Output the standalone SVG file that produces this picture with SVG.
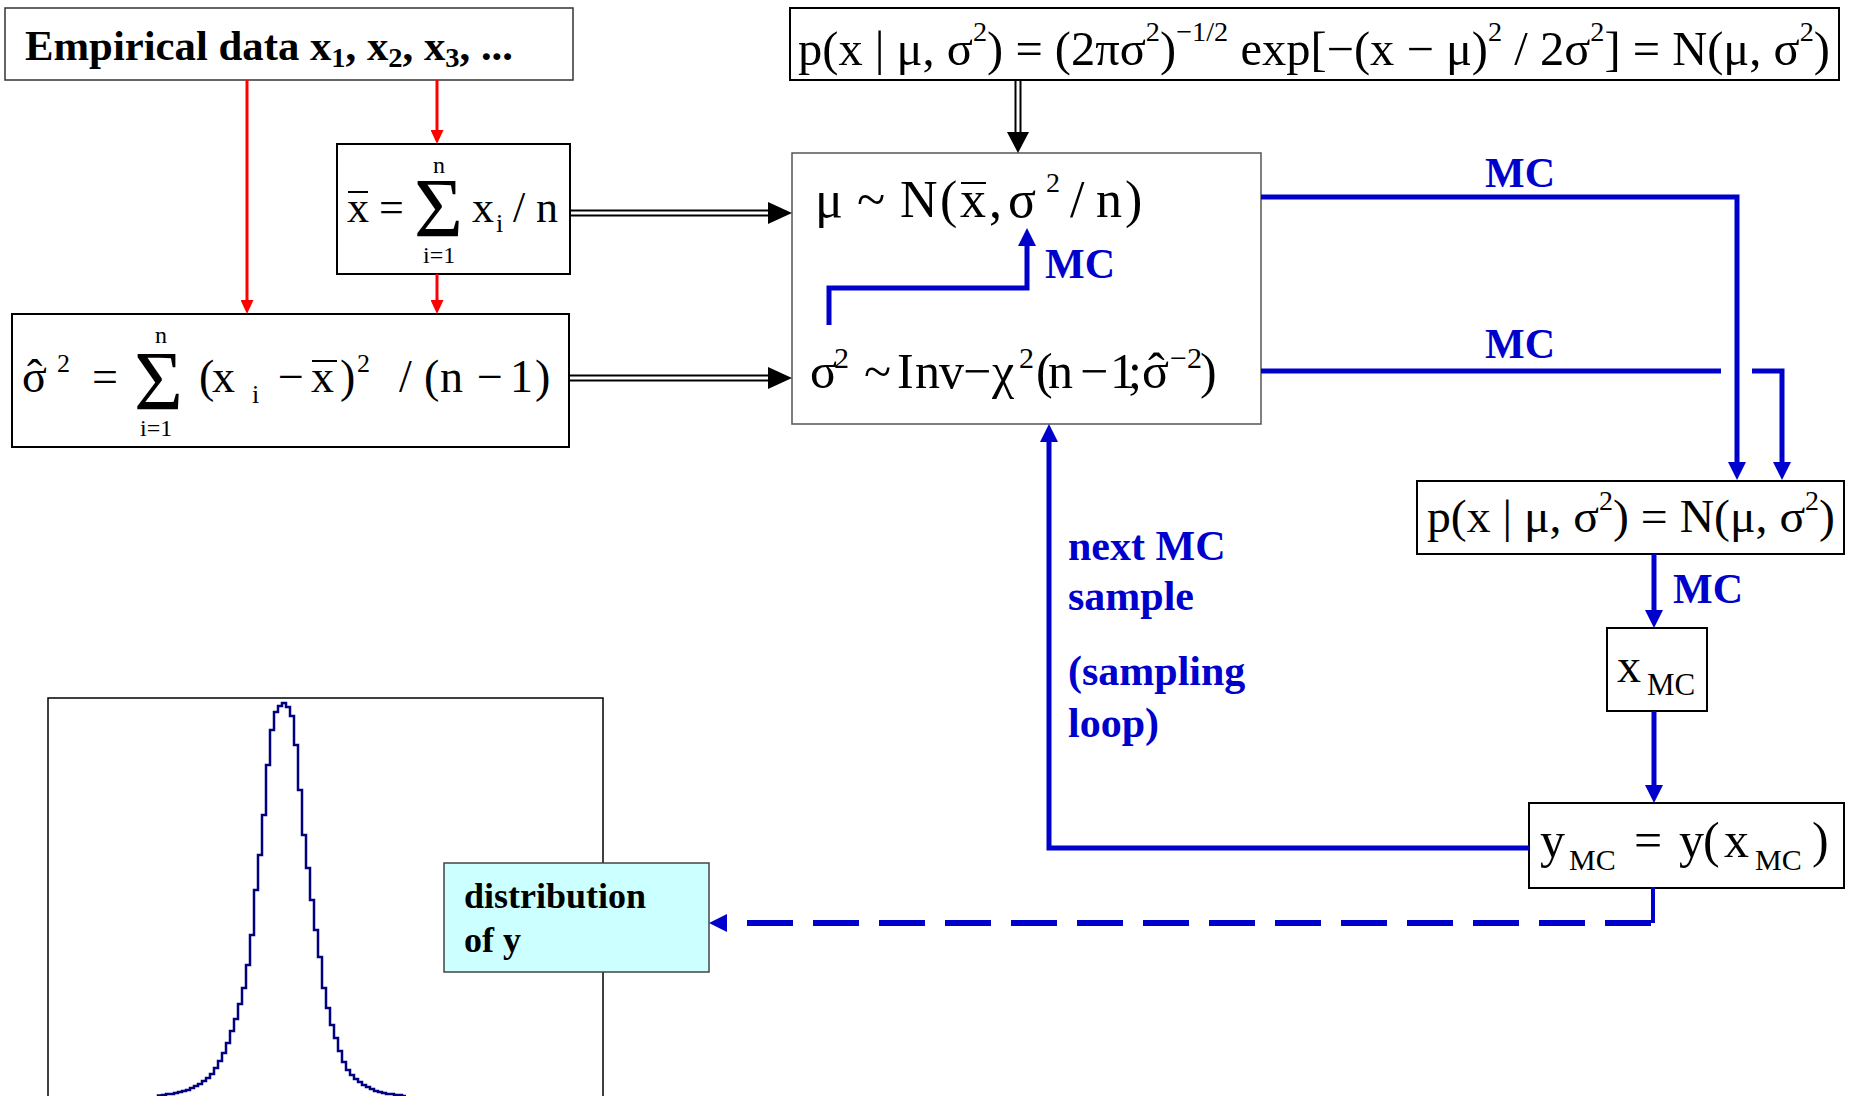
<svg xmlns="http://www.w3.org/2000/svg" width="1851" height="1096" viewBox="0 0 1851 1096">
<defs>
<style>
.f{font-family:"Liberation Serif","Times New Roman",serif;fill:#000}
.bd{font-family:"Liberation Serif","Times New Roman",serif;font-weight:bold;fill:#000}
.mc{font-family:"Liberation Serif","Times New Roman",serif;font-weight:bold;font-size:42px;fill:#0000cc}
.b2{fill:#fff;stroke:#000;stroke-width:2}
.blue{fill:none;stroke:#0000cc;stroke-width:5;stroke-linejoin:miter}
.red{fill:none;stroke:#ff0000;stroke-width:3}
.blk{fill:none;stroke:#000;stroke-width:2}
.bar{stroke:#000;stroke-width:2}
</style>
<marker id="ab" markerUnits="userSpaceOnUse" markerWidth="18" markerHeight="18" refX="1" refY="9" orient="auto"><path d="M0,0 L18,9 L0,18 z" fill="#0000cc"/></marker>
<marker id="ar" markerUnits="userSpaceOnUse" markerWidth="14" markerHeight="13" refX="1" refY="6.5" orient="auto"><path d="M0,0 L14,6.5 L0,13 z" fill="#ff0000"/></marker>
</defs>
<rect width="1851" height="1096" fill="#fff"/>

<g id="histogram">
<rect x="48" y="698" width="555" height="410" fill="none" stroke="#000" stroke-width="1.5"/>
<path d="M158,1096 V1095.5 H162 V1095 H166 V1094 H170 V1094 H174 V1093 H178 V1092 H182 V1091 H186 V1090 H190 V1088 H194 V1086 H198 V1084 H202 V1081 H206 V1078 H210 V1074 H214 V1068 H218 V1061 H222 V1053 H226 V1043 H230 V1031 H234 V1019 H238 V1004 H242 V988 H246 V965 H250 V935 H254 V890 H258 V855 H262 V815 H266 V765 H270 V730 H274 V712 H278 V706 H282 V703 H286 V707 H290 V716 H294 V745 H298 V790 H302 V835 H306 V868 H310 V900 H314 V930 H318 V957 H322 V988 H326 V1008 H330 V1025 H334 V1038 H338 V1051 H342 V1062 H346 V1070 H350 V1075 H354 V1079 H358 V1082 H362 V1085 H366 V1087 H370 V1089 H374 V1091 H378 V1092 H382 V1093 H386 V1094 H390 V1094 H394 V1095 H398 V1095 H402 V1096 H406" fill="none" stroke="#000080" stroke-width="2.5"/>
</g>

<g id="empirical">
<rect x="5" y="8" width="568" height="72" fill="#fff" stroke="#333" stroke-width="1.5"/>
<text class="bd" x="25" y="60" font-size="42" textLength="488" lengthAdjust="spacingAndGlyphs">Empirical data x<tspan dy="7" font-size="28">1</tspan><tspan dy="-7">, x</tspan><tspan dy="7" font-size="28">2</tspan><tspan dy="-7">, x</tspan><tspan dy="7" font-size="28">3</tspan><tspan dy="-7">, ...</tspan></text>
</g>

<g id="likelihood">
<rect class="b2" x="790" y="8" width="1049" height="72"/>
<text class="f" x="798" y="65" font-size="48" textLength="1032" lengthAdjust="spacingAndGlyphs">p(x | μ, σ<tspan dy="-24" font-size="28">2</tspan><tspan dy="24">) = (2πσ</tspan><tspan dy="-24" font-size="28">2</tspan><tspan dy="24">)</tspan><tspan dy="-24" font-size="28">−1/2</tspan><tspan dy="24"> exp[−(x − μ)</tspan><tspan dy="-24" font-size="28">2</tspan><tspan dy="24"> / 2σ</tspan><tspan dy="-24" font-size="28">2</tspan><tspan dy="24">] = N(μ, σ</tspan><tspan dy="-24" font-size="28">2</tspan><tspan dy="24">)</tspan></text>
</g>

<g id="mean">
<rect class="b2" x="337" y="144" width="233" height="130"/>
<text class="f" font-size="44"><tspan x="347" y="222">x</tspan><tspan x="379" y="222">=</tspan><tspan x="472" y="222">x</tspan><tspan x="513" y="222">/</tspan><tspan x="536" y="222">n</tspan></text>
<line class="bar" x1="348" y1="192" x2="368" y2="192"/>
<text class="f" x="414" y="237" font-size="84">Σ</text>
<text class="f" font-size="24"><tspan x="433" y="173">n</tspan><tspan x="423" y="263">i=1</tspan></text>
<text class="f" x="496" y="232" font-size="26">i</text>
</g>

<g id="variance">
<rect class="b2" x="12" y="314" width="557" height="133"/>
<text class="f" font-size="46"><tspan x="22" y="392">σ</tspan><tspan x="92" y="392">=</tspan><tspan x="199" y="392">(</tspan><tspan x="212" y="392">x</tspan><tspan x="278" y="392">−</tspan><tspan x="311" y="392">x</tspan><tspan x="340" y="392">)</tspan><tspan x="399" y="392">/</tspan><tspan x="424" y="392">(</tspan><tspan x="440" y="392">n</tspan><tspan x="477" y="392">−</tspan><tspan x="510" y="392">1</tspan><tspan x="535" y="392">)</tspan></text>
<text class="f" x="27" y="392" font-size="46">ˆ</text>
<line class="bar" x1="312" y1="361" x2="337" y2="361"/>
<text class="f" font-size="26"><tspan x="57" y="372">2</tspan><tspan x="357" y="372">2</tspan><tspan x="252" y="403">i</tspan></text>
<text class="f" x="134" y="410" font-size="84">Σ</text>
<text class="f" font-size="24"><tspan x="155" y="343">n</tspan><tspan x="140" y="436">i=1</tspan></text>
</g>

<g id="posterior">
<rect x="792" y="153" width="469" height="271" fill="#fff" stroke="#555" stroke-width="1.5"/>
<text class="f" font-size="52"><tspan x="815" y="217">μ</tspan><tspan x="857" y="217">~</tspan><tspan x="900" y="217">N</tspan><tspan x="940" y="217">(</tspan><tspan x="960" y="217">x</tspan><tspan x="989" y="217">,</tspan><tspan x="1008" y="217">σ</tspan><tspan x="1070" y="217">/</tspan><tspan x="1096" y="217">n</tspan><tspan x="1125" y="217">)</tspan></text>
<line class="bar" x1="961" y1="183" x2="986" y2="183"/>
<text class="f" x="1046" y="192" font-size="28">2</text>
<text class="f" font-size="50"><tspan x="810" y="388">σ</tspan><tspan x="864" y="388">~</tspan><tspan x="897" y="388">I</tspan><tspan x="915" y="388">n</tspan><tspan x="939" y="388">v</tspan><tspan x="963" y="388">−</tspan><tspan x="992" y="388">χ</tspan><tspan x="1036" y="388">(</tspan><tspan x="1048" y="388">n</tspan><tspan x="1080" y="388">−</tspan><tspan x="1110" y="388">1</tspan><tspan x="1128" y="388">;</tspan><tspan x="1142" y="388">σ</tspan><tspan x="1200" y="388">)</tspan></text>
<text class="f" x="1148" y="388" font-size="50">ˆ</text>
<text class="f" font-size="30"><tspan x="834" y="368">2</tspan><tspan x="1019" y="368">2</tspan><tspan x="1170" y="368">−2</tspan></text>
</g>

<g id="normal">
<rect class="b2" x="1417" y="481" width="427" height="73"/>
<text class="f" x="1427" y="532" font-size="46" textLength="408" lengthAdjust="spacingAndGlyphs">p(x | μ, σ<tspan dy="-22" font-size="27">2</tspan><tspan dy="22">) = N(μ, σ</tspan><tspan dy="-22" font-size="27">2</tspan><tspan dy="22">)</tspan></text>
</g>

<g id="xmc">
<rect class="b2" x="1607" y="628" width="100" height="83"/>
<text class="f" x="1617" y="682" font-size="48">x</text>
<text class="f" x="1647" y="695" font-size="31">MC</text>
</g>

<g id="ymc">
<rect class="b2" x="1529" y="803" width="315" height="85"/>
<text class="f" font-size="50"><tspan x="1540" y="857">y</tspan><tspan x="1634" y="857">=</tspan><tspan x="1679" y="857">y</tspan><tspan x="1703" y="857">(</tspan><tspan x="1724" y="857">x</tspan><tspan x="1812" y="857">)</tspan></text>
<text class="f" font-size="30"><tspan x="1569" y="870">MC</tspan><tspan x="1755" y="870">MC</tspan></text>
</g>

<g id="distribution">
<rect x="444" y="863" width="265" height="109" fill="#ccffff" stroke="#444" stroke-width="1.5"/>
<text class="bd" x="464" y="908" font-size="36">distribution</text>
<text class="bd" x="464" y="952" font-size="36">of y</text>
</g>

<g id="connectors">
<line class="red" x1="247" y1="80" x2="247" y2="301" marker-end="url(#ar)"/>
<line class="red" x1="437" y1="80" x2="437" y2="131" marker-end="url(#ar)"/>
<line class="red" x1="437" y1="274" x2="437" y2="301" marker-end="url(#ar)"/>
<line class="blk" x1="570" y1="210.5" x2="770" y2="210.5"/>
<line class="blk" x1="570" y1="215.5" x2="770" y2="215.5"/>
<polygon points="768,202 792,213 768,224" fill="#000"/>
<line class="blk" x1="569" y1="375.5" x2="770" y2="375.5"/>
<line class="blk" x1="569" y1="380.5" x2="770" y2="380.5"/>
<polygon points="768,367 792,378 768,389" fill="#000"/>
<line class="blk" x1="1015.5" y1="80" x2="1015.5" y2="134"/>
<line class="blk" x1="1020.5" y1="80" x2="1020.5" y2="134"/>
<polygon points="1007,132 1029,132 1018,153" fill="#000"/>
<path class="blue" d="M1261,197 H1737 V463" marker-end="url(#ab)"/>
<path class="blue" d="M1261,371 H1721"/>
<path class="blue" d="M1752,371 H1782 V463" marker-end="url(#ab)"/>
<path class="blue" d="M829,325 V288 H1027 V245" marker-end="url(#ab)"/>
<path class="blue" d="M1654,554 V611" marker-end="url(#ab)"/>
<path class="blue" d="M1654,711 V786" marker-end="url(#ab)"/>
<path class="blue" d="M1529,848 H1049 V441" marker-end="url(#ab)"/>
<path d="M1653,887 V923" fill="none" stroke="#0000cc" stroke-width="4"/>
<path d="M1651,923 H726" fill="none" stroke="#0000cc" stroke-width="6" stroke-dasharray="46 20" marker-end="url(#ab)"/>
<text class="mc" x="1485" y="187">MC</text>
<text class="mc" x="1485" y="358">MC</text>
<text class="mc" x="1045" y="278">MC</text>
<text class="mc" x="1673" y="603">MC</text>
<text class="mc" x="1068" y="560">next MC</text>
<text class="mc" x="1068" y="610">sample</text>
<text class="mc" x="1068" y="685">(sampling</text>
<text class="mc" x="1068" y="737">loop)</text>
</g>
</svg>
